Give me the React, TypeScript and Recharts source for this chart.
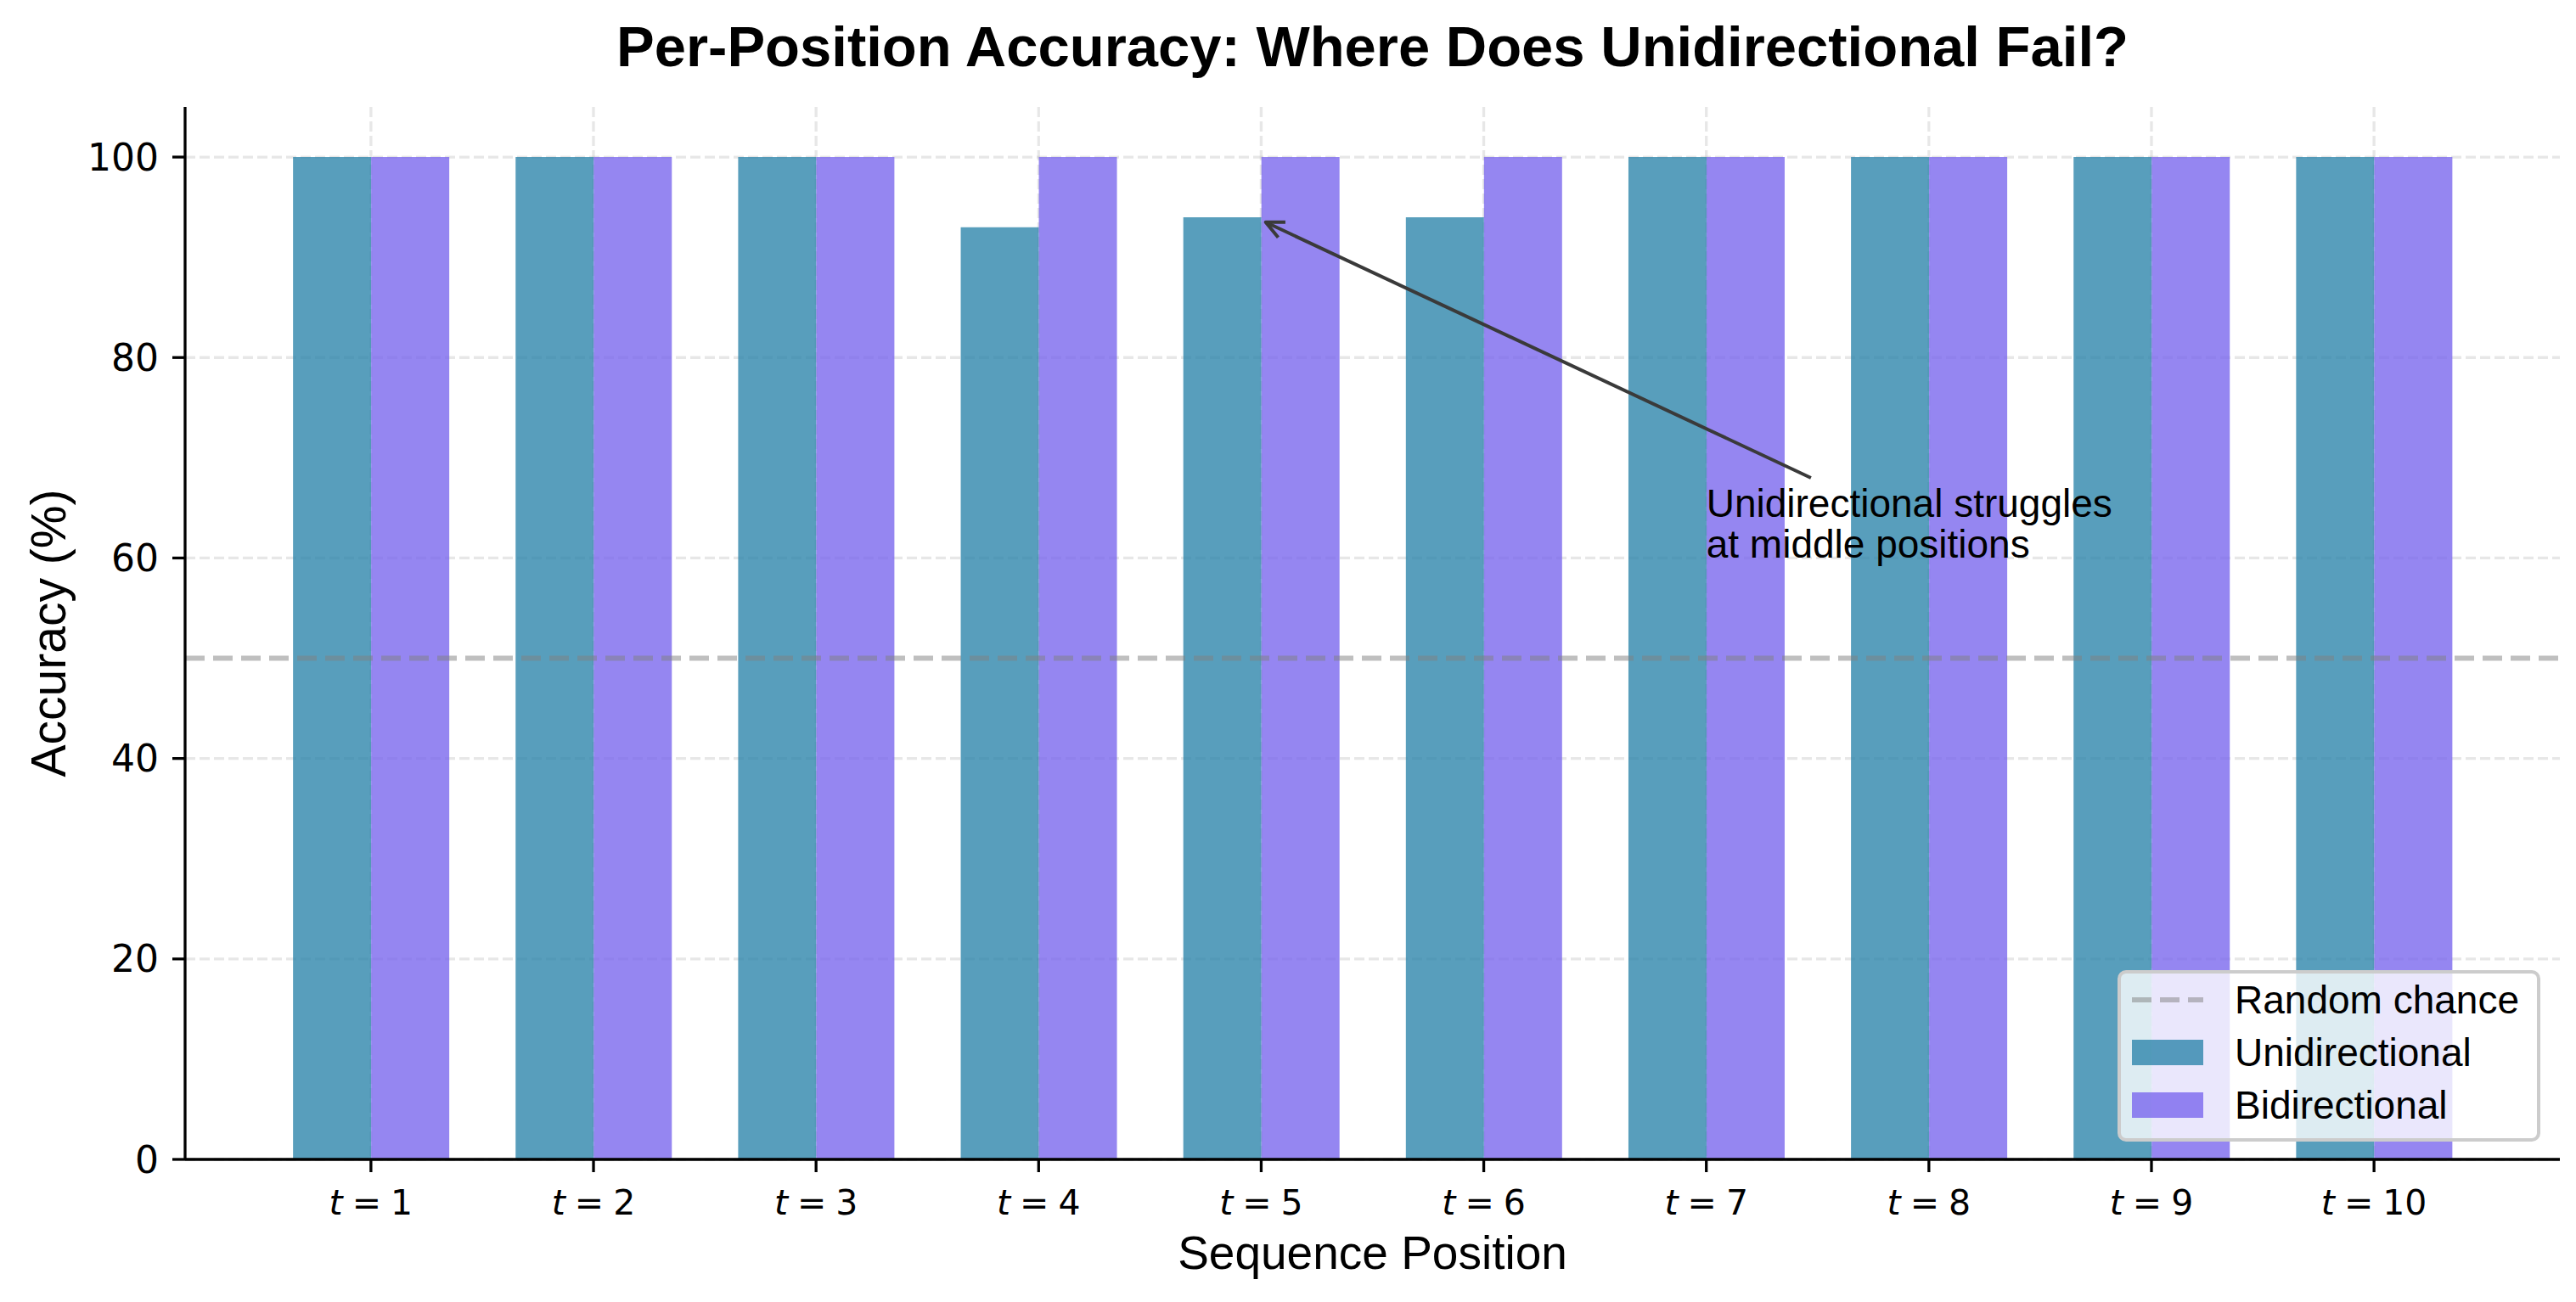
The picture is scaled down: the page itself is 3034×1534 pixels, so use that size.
import React from "react";
import {
  Bar,
  BarChart,
  CartesianGrid,
  Legend,
  ReferenceDot,
  ReferenceLine,
  XAxis,
  YAxis,
} from "recharts";

// values
const positions = [1, 2, 3, 4, 5, 6, 7, 8, 9, 10];
const uniAcc = [100, 100, 100, 93, 94, 94, 100, 100, 100, 100];
const biAcc = [100, 100, 100, 100, 100, 100, 100, 100, 100, 100];
const yTicks = [0, 20, 40, 60, 80, 100];
const randomChance = 50;

const legendItems = [
  { name: "Random chance", kind: "line", color: "gray" },
  { name: "Unidirectional", kind: "rect", color: "#2E86AB" },
  { name: "Bidirectional", kind: "rect", color: "#7B68EE" },
];

// annotation, in bar-index units (0 = t=1)
const noteLines = ["Unidirectional struggles", "at middle positions"];
const noteAt = { x: 6, y: 60 };
const arrowFrom = { x: 6.47, y: 68 };
const arrowTo = { x: 4.02, y: 93.5 };

const data = positions.map((t, i) => ({ t, idx: i, uni: uniAcc[i], bi: biAcc[i] }));

// layout (px)
const W = 3034;
const H = 1534;
const PLOT_L = 218;
const PLOT_R = 3015;
const PLOT_T = 126;
const PLOT_B = 1366;
const PAD = 0.335; // outer padding in category units, like matplotlib's margins
const plotW = PLOT_R - PLOT_L;
const band = plotW / (positions.length + 2 * PAD);
const padPx = PAD * band;

const SANS = "'Liberation Sans', Arial, sans-serif";
const MATH = "'DejaVu Sans', sans-serif";

const PosTick = (props: any) => {
  const { x, y, payload } = props;
  return (
    <text x={x} y={y} dy={50} textAnchor="middle" fontFamily={MATH} fontSize={41} fill="#000">
      <tspan fontStyle="italic">t</tspan>
      <tspan dx={11}>=</tspan>
      <tspan dx={11}>{payload.value}</tspan>
    </text>
  );
};

const ArrowShape = (p: any) => {
  const { x1, y1, x2, y2 } = p;
  if ([x1, y1, x2, y2].some((v) => typeof v !== "number")) return null;
  const ang = Math.atan2(y2 - y1, x2 - x1);
  const len = 21;
  const hw = 10;
  const bx = x2 - len * Math.cos(ang);
  const by = y2 - len * Math.sin(ang);
  const nx = -Math.sin(ang);
  const ny = Math.cos(ang);
  return (
    <g>
      <line x1={x1} y1={y1} x2={x2} y2={y2} stroke="#3a3a3a" strokeWidth={4} />
      <path
        d={`M${bx + nx * hw},${by + ny * hw} L${x2},${y2} L${bx - nx * hw},${by - ny * hw}`}
        fill="none"
        stroke="#3a3a3a"
        strokeWidth={4}
        strokeLinejoin="round"
      />
    </g>
  );
};

const NoteShape = (p: any) => {
  const { cx, cy } = p;
  if (typeof cx !== "number") return null;
  const lh = 48;
  return (
    <text x={cx} y={cy} fontFamily={SANS} fontSize={46} fill="#000">
      {noteLines.map((s, i) => (
        <tspan key={i} x={cx} y={cy - (noteLines.length - 1 - i) * lh}>
          {s}
        </tspan>
      ))}
    </text>
  );
};

const LegendBox = () => (
  <div
    style={{
      width: 498,
      height: 202,
      boxSizing: "border-box",
      border: "4px solid #cccccc",
      borderRadius: 10,
      background: "rgba(255,255,255,0.8)",
      fontFamily: SANS,
      fontSize: 46,
      color: "#000",
    }}
  >
    {legendItems.map((it) => (
      <div key={it.name} style={{ height: 62, display: "flex", alignItems: "center" }}>
        <svg width={84} height={30} style={{ marginLeft: 13, marginRight: 37, flex: "none" }}>
          {it.kind === "line" ? (
            <line x1={0} y1={15} x2={84} y2={15} stroke={it.color} strokeOpacity={0.5} strokeWidth={6} strokeDasharray="23 10" />
          ) : (
            <rect x={0} y={0} width={84} height={30} fill={it.color} fillOpacity={0.8} />
          )}
        </svg>
        <span style={{ lineHeight: 1, whiteSpace: "nowrap" }}>{it.name}</span>
      </div>
    ))}
  </div>
);

export default function App() {
  const cx = (PLOT_L + PLOT_R) / 2;
  return (
    <div style={{ position: "absolute", left: 0, top: 0, width: W, height: H, background: "#fff" }}>
      <BarChart
        width={W}
        height={H}
        data={data}
        margin={{ top: PLOT_T, right: W - PLOT_R, bottom: 0, left: 0 }}
        barCategoryGap="15%"
        barGap={0}
      >
        <CartesianGrid
          syncWithTicks
          stroke="#b0b0b0"
          strokeOpacity={0.3}
          strokeWidth={3.3}
          strokeDasharray="12 5"
        />
        <XAxis
          dataKey="t"
          height={H - PLOT_B}
          padding={{ left: padPx, right: padPx }}
          axisLine={{ stroke: "#000", strokeWidth: 3.3 }}
          tickLine={{ stroke: "#000", strokeWidth: 3.3 }}
          tickSize={15}
          tickMargin={0}
          tick={<PosTick />}
          interval={0}
        />
        <XAxis
          xAxisId="num"
          dataKey="idx"
          type="number"
          domain={[0, positions.length - 1]}
          padding={{ left: padPx + band / 2, right: padPx + band / 2 }}
          allowDataOverflow
          hide
        />
        <YAxis
          width={PLOT_L}
          domain={[0, 105]}
          ticks={yTicks}
          allowDataOverflow
          axisLine={{ stroke: "#000", strokeWidth: 3.3 }}
          tickLine={{ stroke: "#000", strokeWidth: 3.3 }}
          tickSize={15}
          tickMargin={16}
          tick={{ fontFamily: MATH, fontSize: 44, fill: "#000" }}
        />
        <Bar dataKey="uni" fill="#2E86AB" fillOpacity={0.8} isAnimationActive={false} />
        <Bar dataKey="bi" fill="#7B68EE" fillOpacity={0.8} isAnimationActive={false} />
        <ReferenceLine
          y={randomChance}
          stroke="gray"
          strokeOpacity={0.5}
          strokeWidth={6}
          strokeDasharray="23 10"
        />
        <ReferenceLine
          xAxisId="num"
          segment={[arrowFrom, arrowTo]}
          shape={ArrowShape}
          ifOverflow="visible"
        />
        <ReferenceDot
          xAxisId="num"
          x={noteAt.x}
          y={noteAt.y}
          r={0}
          shape={NoteShape}
          ifOverflow="visible"
        />
        <Legend
          layout="vertical"
          align="center"
          verticalAlign="middle"
          content={<LegendBox />}
          wrapperStyle={{ left: 2494, top: 1143, width: 498, height: 202 }}
        />
      </BarChart>
      <svg
        width={W}
        height={H}
        style={{ position: "absolute", left: 0, top: 0, pointerEvents: "none" }}
      >
        <text x={cx} y={78} textAnchor="middle" fontFamily={SANS} fontWeight="bold" fontSize={67} fill="#000">
          Per-Position Accuracy: Where Does Unidirectional Fail?
        </text>
        <text x={cx} y={1495} textAnchor="middle" fontFamily={SANS} fontSize={55} fill="#000">
          Sequence Position
        </text>
        <text
          x={77}
          y={(PLOT_T + PLOT_B) / 2}
          transform={`rotate(-90 77 ${(PLOT_T + PLOT_B) / 2})`}
          textAnchor="middle"
          fontFamily={SANS}
          fontSize={57}
          fill="#000"
        >
          Accuracy (%)
        </text>
      </svg>
    </div>
  );
}
